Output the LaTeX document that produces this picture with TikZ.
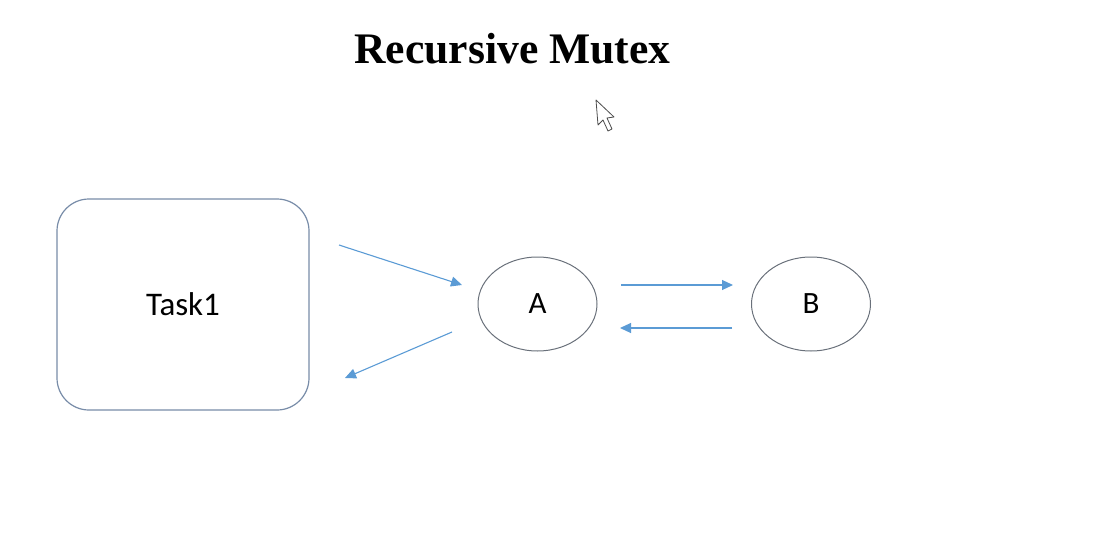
\documentclass[tikz,border=0pt]{standalone}
\usepackage{fontspec}
\setmainfont{Liberation Serif}
\setsansfont{Carlito}
\usetikzlibrary{arrows.meta,shapes.geometric}

\definecolor{linkblue}{RGB}{91,155,213}
\definecolor{boxline}{RGB}{120,140,168}
\definecolor{ovalline}{RGB}{105,112,122}

\tikzset{
  taskbox/.style={draw=boxline, line width=0.6pt, rounded corners=16pt,
    minimum width=126pt, minimum height=105.5pt, inner sep=0pt,
    font=\sffamily\fontsize{16.5}{18}\selectfont},
  lockoval/.style={draw=ovalline, line width=0.5pt, ellipse,
    minimum width=59.5pt, minimum height=47pt, inner sep=0pt,
    font=\sffamily\fontsize{15.5}{17}\selectfont},
  link/.style={draw=linkblue, line width=0.55pt,
    -{Triangle[length=5.5pt,width=5pt]}}
}

\begin{document}
\begin{tikzpicture}[x=0.5pt,y=-0.5pt]

  \useasboundingbox (0,0) rectangle (1100,541);

  % title
  \node[font=\bfseries\fontsize{21.8}{24}\selectfont] (title) at (512.5,49) {Recursive Mutex};

  % mouse pointer
  \draw[fill=white, draw=black!70, line width=0.4pt, line join=round]
    (596,100) -- (598,125) -- (603,120) -- (608,131) -- (612,129)
    -- (607,118) -- (614,117) -- cycle;

  % task and the two locks
  \node[taskbox] (task) at (183,304.5) {Task1};
  \node[lockoval] (lockA) at (537.5,304) {A};
  \node[lockoval] (lockB) at (811,304) {B};

  % arrow ends
  \coordinate (taskOut) at (339,245);
  \coordinate (aIn) at (462,285);
  \coordinate (aOut) at (452,332);
  \coordinate (taskIn) at (345,378);
  \coordinate (abFrom) at (621,285);
  \coordinate (abTo) at (733,285);
  \coordinate (baFrom) at (732,328);
  \coordinate (baTo) at (620,328);

  % arrows
  \draw[link] (taskOut) -- (aIn);
  \draw[link] (aOut) -- (taskIn);
  \draw[link] (abFrom) -- (abTo);
  \draw[link] (baFrom) -- (baTo);

\end{tikzpicture}
\end{document}
